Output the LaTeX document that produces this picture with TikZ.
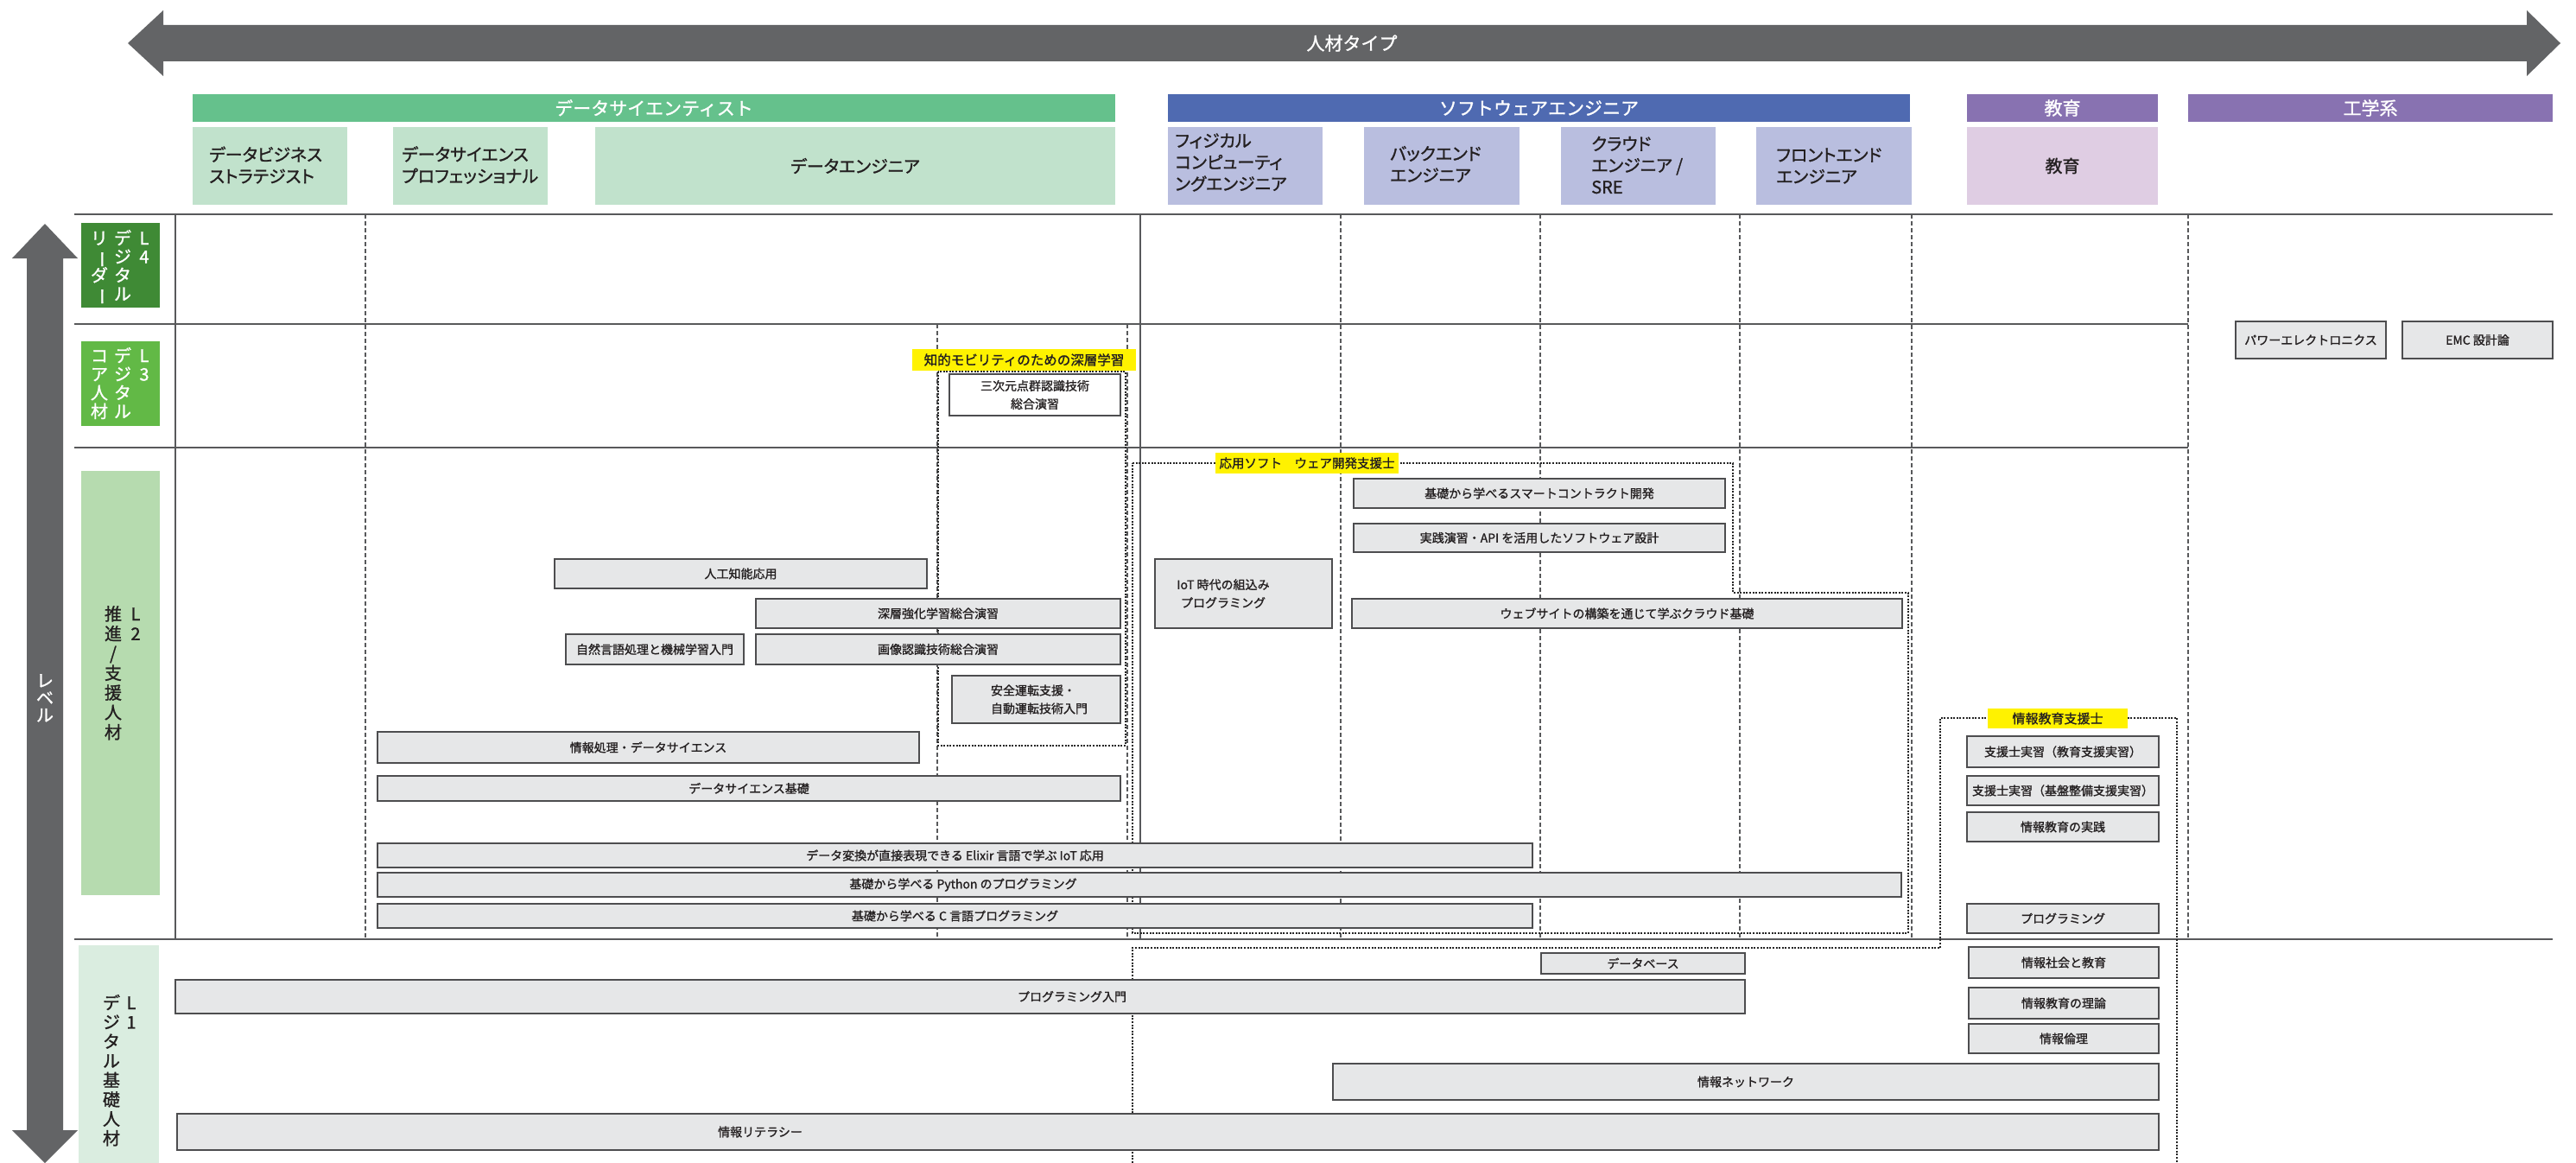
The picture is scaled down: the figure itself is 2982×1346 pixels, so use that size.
\documentclass[tikz,border=0pt]{standalone}
\usepackage{fontspec}
\setmainfont{Noto Sans CJK JP}[RawFeature={embolden=1.2}]
\newfontfamily\jpp[RawFeature={+palt;embolden=1.2}]{Noto Sans CJK JP}
\definecolor{arrowgray}{HTML}{636466}
\definecolor{dsgreen}{HTML}{65C18C}
\definecolor{dslight}{HTML}{C1E2CC}
\definecolor{swblue}{HTML}{4F6AB1}
\definecolor{swlight}{HTML}{B9BEDF}
\definecolor{edpurple}{HTML}{8872B1}
\definecolor{edlight}{HTML}{DFCDE3}
\definecolor{lfour}{HTML}{3F8A35}
\definecolor{lthree}{HTML}{62B946}
\definecolor{ltwo}{HTML}{B6DBAF}
\definecolor{lone}{HTML}{DAEDE0}
\definecolor{cfill}{HTML}{E6E7E8}
\definecolor{cborder}{HTML}{4D4D4F}
\definecolor{gline}{HTML}{58595B}
\definecolor{yel}{HTML}{FFF200}
\definecolor{tdark}{HTML}{231F20}
\newcommand\vb{\rotatebox[origin=c]{-90}{ー}}
\newcommand\coursebox[6]{\node[course, minimum width={#4-#2}, minimum height={#5-#3}] (#1) at ({(#2+#4)/2},{(#3+#5)/2}) {#6};}
\newcommand\courseboxo[7]{\node[course, minimum width={#4-#2}, minimum height={#5-#3}] (#1) at ({(#2+#4)/2},{(#3+#5)/2}) {}; \node[ctext] (#1t) at (#7,{(#3+#5)/2}) {#6};}
\newcommand\vstack[6]{\foreach \ch [count=\i] in {#5} {\node[vchar,#6] (#1\i) at (#2,{#3+#4*(\i-1)}) {\ch};}}
\begin{document}
\begin{tikzpicture}[x=1pt,y=-1pt,
  course/.style={draw=cborder,line width=1.7pt,fill=cfill,inner sep=0pt,outer sep=0pt,text=tdark,align=center,font=\fontsize{14}{21}\selectfont},
  ctext/.style={inner sep=0pt,text=tdark,align=center,font=\fontsize{14}{21}\selectfont},
  hdr/.style={fill=#1,inner sep=0pt,text=white,font=\fontsize{21}{25}\selectfont},
  subbox/.style={fill=#1,inner sep=0pt,text=tdark,align=center,font=\jpp\fontsize{20}{25}\selectfont},
  subtext/.style={inner sep=0pt,text=tdark,align=left,anchor=west,font=\jpp\fontsize{20}{25}\selectfont},
  yellowtag/.style={fill=yel,inner sep=0pt,text=tdark,font=\fontsize{15}{18}\selectfont},
  lvbox/.style={fill=#1,inner sep=0pt},
  vchar/.style={inner sep=0pt,text height=17pt,text depth=3pt,font=\fontsize{20}{22}\selectfont},
  hgrid/.style={draw=gline,line width=2.4pt},
  vsolid/.style={draw=gline,line width=1.4pt},
  vdash/.style={draw=gline,line width=1.2pt,dash pattern=on 5pt off 3pt},
  dotreg/.style={draw=black!85,line width=1.7pt,dash pattern=on 2pt off 1.6pt},
]
\useasboundingbox[fill=white] (0,0) rectangle (2982,1346);

% horizontal arrow
\fill[arrowgray] (148,50) -- (189,12) -- (189,29) -- (2925,29) -- (2925,12) -- (2964,50) -- (2925,88) -- (2925,71) -- (189,71) -- (189,88) -- cycle;
\node[inner sep=0pt,text=white,font=\fontsize{21}{25}\selectfont] (jinzai) at (1565,50) {人材タイプ};

% vertical arrow
\fill[arrowgray] (52,259) -- (90,299) -- (73,299) -- (73,1308) -- (90,1308) -- (52,1346) -- (14,1308) -- (31,1308) -- (31,299) -- (14,299) -- cycle;
\vstack{lvl}{52}{788}{20}{レ,ベ,ル}{white}

% headers
\node[hdr=dsgreen, minimum width=1068, minimum height=32] (hds) at (757,125) {データサイエンティスト};
\node[hdr=swblue, minimum width=859, minimum height=32] (hsw) at (1781.5,125) {ソフトウェアエンジニア};
\node[hdr=edpurple, minimum width=221, minimum height=32] (hed) at (2387.5,125) {教育};
\node[hdr=edpurple, minimum width=422, minimum height=32] (hen) at (2744,125) {工学系};

% sub boxes
\node[subbox=dslight, minimum width=179, minimum height=90] (sb1) at (312.5,192) {};
\node[subtext] (sb1t) at (242,191) {データビジネス\\ストラテジスト};
\node[subbox=dslight, minimum width=179, minimum height=90] (sb2) at (544.5,192) {};
\node[subtext] (sb2t) at (465,191) {データサイエンス\\プロフェッショナル};
\node[subbox=dslight, minimum width=602, minimum height=90] (sb3) at (990,192) {データエンジニア};
\node[subbox=swlight, minimum width=179, minimum height=90] (sb4) at (1441.5,192) {};
\node[subtext] (sb4t) at (1360,188) {フィジカル\\コンピューティ\\ングエンジニア};
\node[subbox=swlight, minimum width=180, minimum height=90] (sb5) at (1669,192) {};
\node[subtext] (sb5t) at (1609,190) {バックエンド\\エンジニア};
\node[subbox=swlight, minimum width=179, minimum height=90] (sb6) at (1896.5,192) {};
\node[subtext] (sb6t) at (1842,191) {クラウド\\エンジニア /\\SRE};
\node[subbox=swlight, minimum width=180, minimum height=90] (sb7) at (2123,192) {};
\node[subtext] (sb7t) at (2056,192) {フロントエンド\\エンジニア};
\node[subbox=edlight, minimum width=221, minimum height=90] (sb8) at (2387.5,192) {教育};

% grid
\draw[hgrid] (86,248) -- (2955,248);
\draw[hgrid] (86,375) -- (2533,375);
\draw[hgrid] (86,518) -- (2533,518);
\draw[hgrid] (86,1087) -- (2955,1087);
\draw[vsolid] (203,248) -- (203,1087);
\draw[vsolid] (1320,248) -- (1320,1087);
\foreach \xx in {423,1552,1783,2014,2213,2533} {\draw[vdash] (\xx,248) -- (\xx,1087);}
\foreach \xx in {1085,1305} {\draw[vdash] (\xx,375) -- (\xx,1087);}

% level boxes
\node[lvbox=lfour, minimum width=91, minimum height=98] (L4box) at (139.5,307) {};
\node[lvbox=lthree, minimum width=91, minimum height=98] (L3box) at (139.5,444) {};
\node[lvbox=ltwo, minimum width=91, minimum height=491] (L2box) at (139.5,790.5) {};
\node[lvbox=lone, minimum width=93, minimum height=252] (L1box) at (137.5,1220) {};
\vstack{lfa}{167}{276}{21.5}{L,4}{white}
\vstack{lfb}{142}{276}{21.5}{デ,ジ,タ,ル}{white}
\vstack{lfc}{115}{276}{21.5}{リ,\vb,ダ,\vb}{white}
\vstack{lta}{167}{412}{21.5}{L,3}{white}
\vstack{ltb}{142}{412}{21.5}{デ,ジ,タ,ル}{white}
\vstack{ltc}{115}{412}{21.5}{コ,ア,人,材}{white}
\vstack{lsa}{157}{711}{22.8}{L,2}{tdark}
\vstack{lsb}{131}{711}{22.8}{推,進,/,支,援,人,材}{tdark}
\vstack{loa}{152}{1161}{22.4}{L,1}{tdark}
\vstack{lob}{129}{1161}{22.4}{デ,ジ,タ,ル,基,礎,人,材}{tdark}

% dotted regions
\draw[dotreg] (1086,430) rectangle (1303,863);
\draw[dotreg] (1311,536) -- (2006,536) -- (2006,686) -- (2209,686) -- (2209,1080) -- (1311,1080) -- cycle;
\draw[dotreg] (1311,1346) -- (1311,1097) -- (2246,1097) -- (2246,831) -- (2520,831) -- (2520,1346);

% L3 courses
\coursebox{pe}{2588}{372}{2762}{415}{パワーエレクトロニクス}
\coursebox{emc}{2781}{372}{2955}{415}{EMC 設計論}
\node[course, fill=white, minimum width=198, minimum height=48] (pc) at (1198,457) {三次元点群認識技術\\総合演習};

% L2 courses
\coursebox{ai}{642}{647}{1073}{681}{人工知能応用}
\coursebox{drl}{875}{693}{1297}{727}{深層強化学習総合演習}
\coursebox{nlp}{655}{734}{861}{769}{自然言語処理と機械学習入門}
\coursebox{img}{875}{734}{1297}{769}{画像認識技術総合演習}
\node[course, minimum width=195, minimum height=55] (safe) at (1199.5,809.5) {};
\node[ctext, align=left] (safet) at (1203,809.5) {安全運転支援・\\自動運転技術入門};
\coursebox{ipds}{437}{847}{1064}{883}{情報処理・データサイエンス}
\coursebox{dsb}{437}{898}{1297}{927}{データサイエンス基礎}
\coursebox{elx}{437}{976}{1774}{1004}{データ変換が直接表現できる Elixir 言語で学ぶ IoT 応用}
\courseboxo{py}{437}{1010}{2201}{1038}{基礎から学べる Python のプログラミング}{1115}
\coursebox{cl}{437}{1046}{1774}{1074}{基礎から学べる C 言語プログラミング}
\courseboxo{iot}{1337}{647}{1542}{727}{IoT 時代の組込み\\プログラミング}{1416}
\coursebox{sc}{1567}{554}{1997}{588}{基礎から学べるスマートコントラクト開発}
\coursebox{api}{1567}{606}{1997}{639}{実践演習・API を活用したソフトウェア設計}
\coursebox{web}{1565}{693}{2202}{727}{ウェブサイトの構築を通じて学ぶクラウド基礎}
\coursebox{sja}{2277}{852}{2499}{888}{支援士実習（教育支援実習）}
\coursebox{sjb}{2277}{898}{2499}{932}{支援士実習（基盤整備支援実習）}
\coursebox{iep}{2277}{940}{2499}{974}{情報教育の実践}
\coursebox{prg}{2277}{1046}{2499}{1080}{プログラミング}

% L1 courses
\coursebox{db}{1784}{1103}{2020}{1127}{データベース}
\courseboxo{pin}{203}{1134}{2020}{1173}{プログラミング入門}{1241}
\coursebox{ise}{2279}{1096}{2499}{1132}{情報社会と教育}
\coursebox{iet}{2279}{1143}{2499}{1179}{情報教育の理論}
\coursebox{eth}{2279}{1185}{2499}{1219}{情報倫理}
\coursebox{net}{1543}{1231}{2499}{1273}{情報ネットワーク}
\courseboxo{lit}{205}{1289}{2499}{1331}{情報リテラシー}{880}

% yellow tags
\node[yellowtag, minimum width=259, minimum height=25, font=\fontsize{15.5}{18}\selectfont] (ya) at (1185.5,416.5) {知的モビリティのための深層学習};
\node[yellowtag, minimum width=212, minimum height=24, font=\fontsize{14.5}{18}\selectfont] (yb) at (1513,536) {応用ソフト　ウェア開発支援士};
\node[yellowtag, minimum width=162, minimum height=23] (yc) at (2382,831.5) {情報教育支援士};
\end{tikzpicture}
\end{document}
